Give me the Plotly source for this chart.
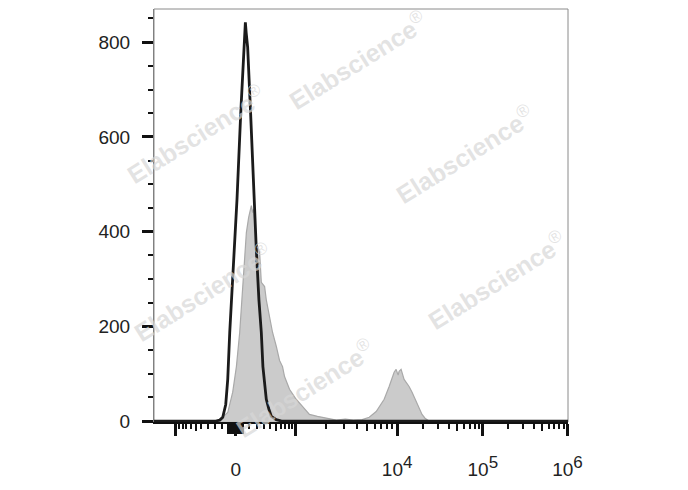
import numpy as np
import plotly.graph_objects as go

# ---------------- data (display channel units, counts) ----------------
# unstained / control (black line)
black_channel = [-82, -20, -16, -13, -10, -8, -6, -4.3, -2, 1.3, 5, 8, 9.7, 10.5, 12, 15,
                 18.3, 20.7, 23.3, 25.7, 27.3, 29, 30.7, 33.3, 35.7, 40.7, 46, 333.5]
black_count = [0, 0, 2, 8, 35, 88, 187, 256, 327, 468, 648, 780, 842, 820, 789, 648,
               468, 362, 256, 187, 115, 73, 46, 25, 10, 3, 0, 0]

# stained sample (gray filled)
gray_channel = [-82, -20, -16, -13, -8, -3, 0.7, 4, 7, 10.7, 13, 15.7, 17, 18, 20.7, 22,
                24, 25.7, 27, 29, 30.7, 34, 37, 40.7, 44, 47, 49, 54, 60.7, 67, 74, 82,
                91, 101, 110, 118, 127, 134, 141, 146, 149, 154, 157, 159, 161, 163, 164,
                166, 169, 172, 174, 177, 179, 182, 184, 187, 190, 194, 333.5]
gray_count = [0, 0, 3, 8, 18, 61, 115, 187, 293, 398, 430, 455, 440, 448, 377, 370,
              356, 293, 290, 284, 256, 221, 187, 158, 128, 115, 94, 67, 46, 31, 14, 10,
              6, 2, 4, 2, 3, 8, 20, 35, 46, 73, 92, 103, 109, 97, 105,
              109, 88, 80, 73, 61, 52, 40, 31, 14, 6, 0, 0]

# axis tick values (fluorescence intensity)
x_major_vals = [-1000, 0, 1000, 1e4, 1e5, 1e6]
SUP = '10<sup><span style="font-size:17px">{}</span></sup>'
x_major_text = ['', '0', '', SUP.format(4), SUP.format(5), SUP.format(6)]
x_block_vals = [-50, -40, -30, -20, -10, 10, 20, 30, 40, 50]
x_medium_vals = [-500, 500, 5e3, 5e4, 5e5]
x_minor_vals = ([-k for k in (100, 200, 300, 400, 600, 700, 800, 900)] +
                [100, 200, 300, 400, 600, 700, 800, 900] +
                [m * 10 ** e for e in (3, 4, 5) for m in (2, 3, 4, 6, 7, 8, 9)])
y_major_vals = [0, 200, 400, 600, 800]

# biexponential-like display scale (intensity -> display channel)
LIN_INT = [0, 100, 200, 300, 400, 500, 600, 700, 800, 900, 1000]
LIN_CH = [0, 13.5, 21, 28, 34.5, 40, 45, 49.5, 53, 56.5, 60]
LOG_DEC = [3, 4, 5, 6]
LOG_CH = [60, 162, 248, 333]


def to_channel(v):
    v = np.asarray(v, dtype=float)
    a = np.abs(v)
    lin = np.interp(a, LIN_INT, LIN_CH)
    lg = np.interp(np.log10(np.maximum(a, 1000)), LOG_DEC, LOG_CH)
    return np.sign(v) * np.where(a <= 1000, lin, lg)


fig = go.Figure()
fig.add_trace(go.Scatter(x=gray_channel, y=gray_count, mode='lines', fill='tozeroy',
                         fillcolor='#cbcbcb', line=dict(color='#a9a9a9', width=1.2),
                         hoverinfo='skip', showlegend=False))
fig.add_trace(go.Scatter(x=black_channel, y=black_count, mode='lines',
                         line=dict(color='#1b1b1b', width=2.8),
                         hoverinfo='skip', showlegend=False))
# carrier traces for the overlay tick axes
fig.add_trace(go.Scatter(x=[0, 0], y=[0, 0], mode='lines', line=dict(width=0),
                         xaxis='x2', hoverinfo='skip', showlegend=False))
fig.add_trace(go.Scatter(x=[0, 0], y=[0, 0], mode='lines', line=dict(width=0),
                         xaxis='x3', hoverinfo='skip', showlegend=False))

tick_font = dict(family='Liberation Sans, Arial, sans-serif', size=19, color='#222222')
overlay_common = dict(overlaying='x', matches='x', anchor='y', side='bottom',
                      tickmode='array', ticks='outside', tickcolor='#111111',
                      showticklabels=False, showline=False, showgrid=False,
                      zeroline=False, automargin=False)

# page body has an 8px margin, so the figure is sized to fit the window
fig.update_layout(
    width=680, height=482,
    margin=dict(l=146, r=120, t=1, b=68, autoexpand=False),
    paper_bgcolor='white', plot_bgcolor='white',
    xaxis=dict(range=[-82, 333.5], tickmode='array',
               tickvals=to_channel(x_major_vals).tolist(), ticktext=x_major_text,
               tickangle=0, automargin=False,
               ticks='outside', ticklen=12, tickwidth=3, tickcolor='#111111',
               showline=True, linecolor='#111111', linewidth=2,
               showgrid=False, zeroline=False, tickfont=tick_font,
               ticklabelstandoff=17,
               minor=dict(tickmode='array', tickvals=to_channel(x_minor_vals).tolist(),
                          ticks='outside', ticklen=5, tickwidth=1.5,
                          tickcolor='#111111', showgrid=False)),
    xaxis2=dict(tickvals=to_channel(x_medium_vals).tolist(), ticklen=8, tickwidth=2,
                **overlay_common),
    xaxis3=dict(tickvals=to_channel(x_block_vals).tolist(), ticklen=11, tickwidth=2.5,
                **overlay_common),
    yaxis=dict(range=[-2, 870], tickmode='array', tickvals=y_major_vals,
               automargin=False,
               ticks='outside', ticklen=11, tickwidth=3, tickcolor='#111111',
               showline=True, linecolor='#808080', linewidth=1,
               showgrid=False, zeroline=False, tickfont=tick_font,
               ticklabelstandoff=8,
               minor=dict(dtick=50, ticks='outside', ticklen=5, tickwidth=1.5,
                          tickcolor='#111111', showgrid=False)),
)

fig.add_shape(type='rect', xref='paper', yref='paper', x0=0, x1=1, y0=0, y1=1,
              line=dict(color='#8a8a8a', width=1), layer='below')

# watermarks (page-pixel centres converted to paper coordinates)
wm_centres = [(358, 60), (196, 134), (465, 154), (203, 292), (497, 280), (305, 388)]
for cx, cy in wm_centres:
    fig.add_annotation(x=(cx - 154) / 414, y=(422 - cy) / 413, xref='paper', yref='paper',
                       text='<b>Elabscience</b><sup>®</sup>', showarrow=False,
                       textangle=-32, xanchor='center', yanchor='middle',
                       font=dict(family='Liberation Sans, Arial, sans-serif', size=25,
                                 color='rgba(215,215,215,0.7)'))

fig.write_html('out.html')
